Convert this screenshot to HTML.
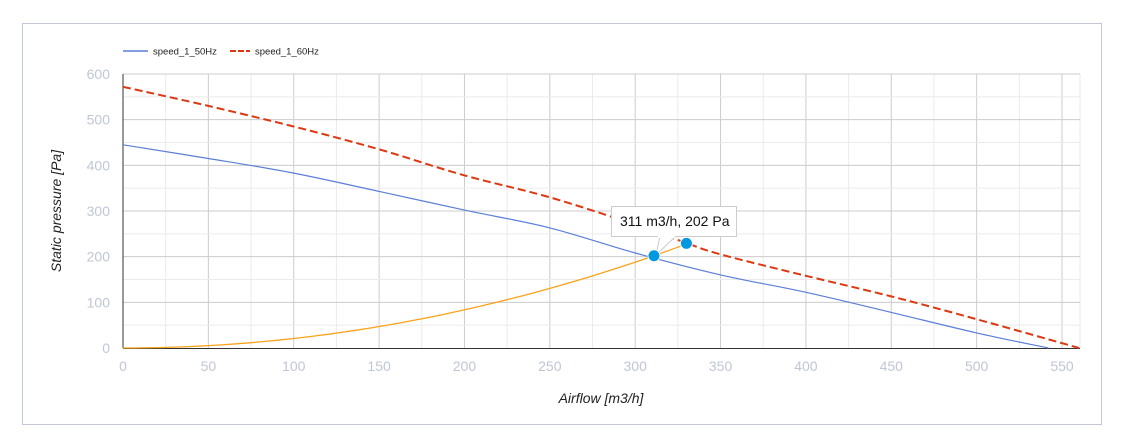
<!DOCTYPE html>
<html><head><meta charset="utf-8"><style>
html,body{margin:0;padding:0;background:#fff;width:1124px;height:439px;overflow:hidden}
svg{display:block;font-family:"Liberation Sans",Arial,sans-serif}
</style></head><body>
<svg id="s" width="1124" height="439" xmlns="http://www.w3.org/2000/svg">
<rect x="22.5" y="23.5" width="1079" height="401" fill="#fff" stroke="#c3c8d6"/>
<g id="grid"></g>
<g id="lbl" fill="#c0c6d6" font-size="14"></g>
<line x1="123" y1="74" x2="123" y2="348" stroke="#333"/>
<line x1="123" y1="348.5" x2="1080" y2="348.5" stroke="#333"/>
<path id="blue" fill="none" stroke="#5b7fd6" stroke-width="1.2"/>
<path id="red" fill="none" stroke="#dc3912" stroke-width="2" stroke-dasharray="8,4"/>
<path id="orange" fill="none" stroke="#f7a21b" stroke-width="1.3"/>
<line x1="123" y1="51" x2="148" y2="51" stroke="#5b7fd6" stroke-width="1.5"/>
<text x="153" y="54.5" font-size="9.5" fill="#222">speed_1_50Hz</text>
<line x1="230" y1="51" x2="250" y2="51" stroke="#dc3912" stroke-width="2" stroke-dasharray="6,2"/>
<text x="255" y="54.5" font-size="9.5" fill="#222">speed_1_60Hz</text>
<text x="601" y="403" font-size="14" font-style="italic" fill="#222" text-anchor="middle">Airflow [m3/h]</text>
<text transform="translate(61,211) rotate(-90)" font-size="14" font-style="italic" fill="#222" text-anchor="middle">Static pressure [Pa]</text>
<path d="M656 255 L660 236 L676 236 Z" fill="#fff" stroke="#ccc"/>
<rect x="611.5" y="206.5" width="125" height="30" fill="#fff" stroke="#ccc"/>
<path d="M658 237 L675 237" stroke="#fff" stroke-width="2"/>
<text x="620" y="226" font-size="14" fill="#111">311 m3/h, 202 Pa</text>
<circle id="c1" r="6" fill="#0099e0" stroke="#fff" stroke-width="1"/>
<circle id="c2" r="6" fill="#0099e0" stroke="#fff" stroke-width="1"/>
</svg>
<script>
var X=function(v){return 123+v*1.7073},Y=function(v){return 348-v*0.4567};
var g='',l='';
for(var v=0;v<=560;v+=25){var x=X(v);if(v>0)g+='<line x1="'+x+'" y1="74" x2="'+x+'" y2="348" stroke="'+(v%50?'#ebebeb':'#cccccc')+'"/>';if(v%50==0)l+='<text x="'+x+'" y="371" text-anchor="middle">'+v+'</text>';}
g+='<line x1="1080" y1="74" x2="1080" y2="348" stroke="#ebebeb"/>';
for(var v=0;v<=600;v+=50){var y=Y(v);if(v>0)g+='<line x1="123" y1="'+y+'" x2="1080" y2="'+y+'" stroke="'+(v%100?'#ebebeb':'#cccccc')+'"/>';if(v%100==0)l+='<text x="110" y="'+(y+5)+'" text-anchor="end">'+v+'</text>';}
document.getElementById('grid').innerHTML=g;document.getElementById('lbl').innerHTML=l;
function P(a){var p=a.map(function(q){return[X(q[0]),Y(q[1])]});var d='M'+p[0][0].toFixed(1)+' '+p[0][1].toFixed(1);
for(var i=0;i<p.length-1;i++){var p0=p[i?i-1:0],p1=p[i],p2=p[i+1],p3=p[i+2<p.length?i+2:i+1];
d+=' C'+(p1[0]+(p2[0]-p0[0])/6).toFixed(1)+' '+(p1[1]+(p2[1]-p0[1])/6).toFixed(1)+' '+(p2[0]-(p3[0]-p1[0])/6).toFixed(1)+' '+(p2[1]-(p3[1]-p1[1])/6).toFixed(1)+' '+p2[0].toFixed(1)+' '+p2[1].toFixed(1);}return d;}
document.getElementById('blue').setAttribute('d',P([[0,445],[50,415],[100,383],[150,343],[200,302],[250,263],[300,208],[350,160],[400,122],[450,78],[500,33],[542,0]]));
document.getElementById('red').setAttribute('d',P([[0,572],[50,530],[100,485],[150,435],[200,378],[250,330],[300,270],[330,230],[350,205],[400,158],[450,113],[500,63],[560,0]]));
var o=[];for(var v=0;v<=330;v+=10)o.push([v,202*Math.pow(v/311,2)]);o.push([330,227]);
document.getElementById('orange').setAttribute('d',P(o));
var c1=document.getElementById('c1');c1.setAttribute('cx',X(311));c1.setAttribute('cy',Y(202));
var c2=document.getElementById('c2');c2.setAttribute('cx',X(330));c2.setAttribute('cy',Y(229));
</script>
</body></html>
